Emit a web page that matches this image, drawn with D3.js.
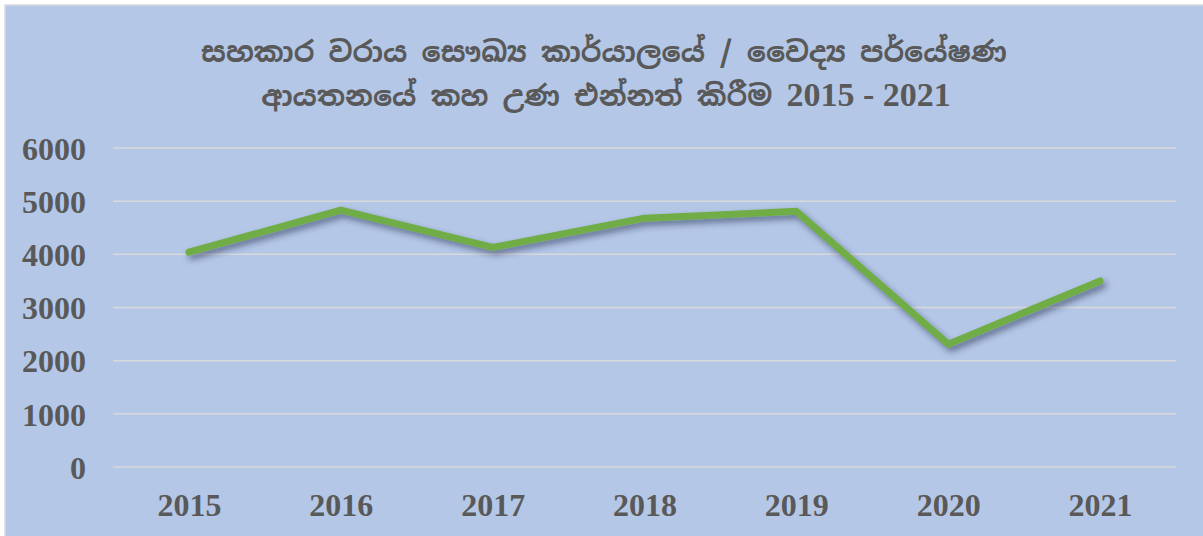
<!DOCTYPE html>
<html>
<head>
<meta charset="utf-8">
<script src="https://cdn.jsdelivr.net/npm/d3@7/dist/d3.min.js"></script>
<style>
  html, body { margin: 0; padding: 0; background: #ffffff; }
  svg { display: block; }
</style>
</head>
<body>
<script>
// Yellow fever vaccinations, 2015 - 2021
const titleLine1 = "සහකාර වරාය සෞඛ්‍ය කාර්යාලයේ / වෛද්‍ය පර්යේෂණ";
const titleLine2 = "ආයතනයේ කහ උණ එන්නත් කිරීම";
const titleYears = "2015 - 2021";
const years = ["2015", "2016", "2017", "2018", "2019", "2020", "2021"];
const vaccinations = [4040, 4830, 4130, 4680, 4810, 2310, 3500];
const yTicks = [0, 1000, 2000, 3000, 4000, 5000, 6000];

const W = 1203, H = 536;
const plot = { left: 113, right: 1176, top: 148, bottom: 467 };

const svg = d3.select("body").append("svg")
  .attr("width", W).attr("height", H);

const defs = svg.append("defs");
const shadow = defs.append("filter").attr("id", "lineShadow")
  .attr("x", "-10%").attr("y", "-30%").attr("width", "120%").attr("height", "160%");
shadow.append("feDropShadow")
  .attr("dx", 3).attr("dy", 4).attr("stdDeviation", 3)
  .attr("flood-color", "#1f2a4a").attr("flood-opacity", 0.55);

// chart area with thin frame on top/left
svg.append("rect")
  .attr("x", 5).attr("y", 5).attr("width", W + 10).attr("height", H + 10)
  .attr("fill", "#b4c7e7").attr("stroke", "#d9d9d9").attr("stroke-width", 1.5);

const x = d3.scalePoint().domain(years).range([plot.left, plot.right]).padding(0.5);
const y = d3.scaleLinear().domain([0, 6000]).range([plot.bottom, plot.top]);

// gridlines
svg.append("g").selectAll("line").data(yTicks).join("line")
  .attr("x1", plot.left).attr("x2", plot.right)
  .attr("y1", d => y(d)).attr("y2", d => y(d))
  .attr("stroke", "#d9d9d9").attr("stroke-width", 1.5);

const serif = "'Liberation Serif', 'Times New Roman', serif";
const sinhala = "'Noto Sans Sinhala', 'Iskoola Pota', sans-serif";

// y axis labels
const yAxis = d3.axisLeft(y).tickValues(yTicks).tickSize(0).tickPadding(0).tickFormat(d3.format("d"));
svg.append("g")
  .attr("transform", `translate(86,0)`)
  .call(yAxis)
  .call(g => g.select(".domain").remove())
  .call(g => g.selectAll("text")
    .attr("fill", "#595959")
    .attr("font-family", serif)
    .attr("font-weight", "bold")
    .attr("font-size", 32)
    .attr("dy", "0.35em"));

// x axis labels
const xAxis = d3.axisBottom(x).tickSize(0).tickPadding(0);
svg.append("g")
  .attr("transform", `translate(0,493)`)
  .call(xAxis)
  .call(g => g.select(".domain").remove())
  .call(g => g.selectAll("text")
    .attr("fill", "#595959")
    .attr("font-family", serif)
    .attr("font-weight", "bold")
    .attr("font-size", 32)
    .attr("dy", "0.71em"));

// series line
const line = d3.line()
  .x((d, i) => x(years[i]))
  .y(d => y(d));

svg.append("path")
  .datum(vaccinations)
  .attr("d", line)
  .attr("fill", "none")
  .attr("stroke", "#70ad47")
  .attr("stroke-width", 7)
  .attr("stroke-linecap", "round")
  .attr("stroke-linejoin", "round")
  .attr("filter", "url(#lineShadow)");

// title
const title = svg.append("g")
  .attr("fill", "#595959")
  .attr("font-weight", "bold")
  .attr("text-anchor", "middle");

title.append("text")
  .attr("x", 604).attr("y", 62)
  .attr("font-family", sinhala)
  .attr("font-size", 28.5)
  .text(titleLine1);

const t2 = title.append("text")
  .attr("x", 606).attr("y", 106);
t2.append("tspan")
  .attr("font-family", sinhala)
  .attr("font-size", 28.5)
  .text(titleLine2 + " ");
t2.append("tspan")
  .attr("font-family", serif)
  .attr("font-size", 34)
  .text(titleYears);
</script>
</body>
</html>
